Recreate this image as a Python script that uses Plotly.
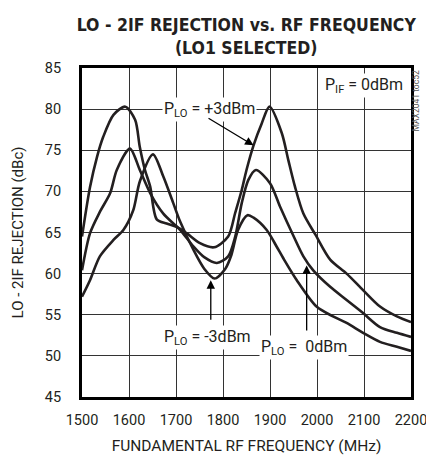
import plotly.graph_objects as go

# Data
freq_p3 = [1500, 1517, 1532, 1545, 1567, 1592, 1613, 1623, 1634, 1645, 1659, 1680, 1701, 1723, 1751, 1781, 1811, 1826, 1840, 1850, 1865, 1882, 1899, 1925, 1939, 1953, 1971, 1997, 2028, 2063, 2098, 2134, 2170, 2200]
rej_p3  = [64.5, 70.5, 74.2, 76.6, 79.3, 80.3, 78.7, 75.4, 72.6, 70.6, 66.6, 66.1, 65.7, 64.9, 63.7, 63.2, 64.5, 67.4, 70.2, 72.6, 75.6, 78.2, 80.3, 77.1, 73.8, 70.6, 67.3, 64.7, 61.7, 60.0, 58.0, 56.0, 54.8, 54.1]

freq_0 = [1500, 1517, 1538, 1560, 1574, 1602, 1623, 1645, 1673, 1709, 1737, 1760, 1787, 1811, 1826, 1840, 1854, 1870, 1900, 1921, 1949, 1971, 1992, 2028, 2063, 2098, 2134, 2170, 2200]
rej_0  = [60.4, 64.9, 67.5, 69.8, 72.6, 75.2, 72.6, 69.8, 67.3, 65.3, 63.3, 62.0, 61.3, 62.1, 64.5, 68.6, 71.4, 72.6, 71.0, 68.2, 64.7, 62.1, 60.4, 58.4, 56.8, 55.2, 53.5, 52.8, 52.3]

freq_m3 = [1500, 1517, 1538, 1567, 1588, 1609, 1623, 1651, 1673, 1694, 1709, 1737, 1760, 1782, 1805, 1818, 1832, 1852, 1865, 1893, 1914, 1928, 1957, 1999, 2034, 2063, 2098, 2134, 2170, 2200]
rej_m3  = [57.2, 59.2, 62.1, 64.1, 65.3, 67.7, 71.2, 74.5, 71.8, 68.6, 66.3, 62.9, 60.6, 59.4, 60.6, 62.3, 65.3, 67.1, 66.8, 65.3, 63.3, 61.9, 59.2, 56.0, 54.8, 54.0, 52.8, 51.7, 51.1, 50.6]

x_ticks = [1500, 1600, 1700, 1800, 1900, 2000, 2100, 2200]
y_ticks = [45, 50, 55, 60, 65, 70, 75, 80, 85]

CURVE = "#231f20"
FONT = "DejaVu Sans Condensed, Roboto, Liberation Sans, sans-serif"
TFONT = "Roboto, Liberation Sans, sans-serif"

fig = go.Figure()
for xs, ys in [(freq_p3, rej_p3), (freq_0, rej_0), (freq_m3, rej_m3)]:
    fig.add_trace(go.Scatter(x=xs, y=ys, mode="lines",
                             line=dict(color=CURVE, width=2.6, shape="spline", smoothing=0.8),
                             showlegend=False, hoverinfo="skip"))

axis_common = dict(showgrid=True, gridcolor="#333333", gridwidth=1.4,
                   showline=True, linecolor="black", linewidth=3, mirror=True,
                   ticks="", zeroline=False, ticklabeloverflow="allow",
                   tickfont=dict(family=TFONT, size=14.5, color="#231f20"))

fig.update_xaxes(range=[1500, 2200], tickvals=x_ticks, ticktext=[str(v) for v in x_ticks],
                 ticklabelstandoff=8,
                 title=dict(text="FUNDAMENTAL RF FREQUENCY (MHz)", standoff=12,
                            font=dict(family=TFONT, size=15.5, color="#231f20")),
                 **axis_common)
fig.update_yaxes(range=[45, 85], tickvals=y_ticks, ticktext=[str(v) for v in y_ticks],
                 ticklabelstandoff=15,
                 title=dict(text="LO - 2IF REJECTION (dBc)", standoff=18,
                            font=dict(family=TFONT, size=15, color="#231f20")),
                 **axis_common)

ann_font = dict(family=TFONT, size=16, color="#231f20")
annotations = [
    dict(x=1772, y=80, text="P<sub>LO</sub> = +3dBm", showarrow=False, bgcolor="white",
         font=ann_font, xanchor="center", yanchor="middle"),
    dict(x=2100, y=82.9, text="P<sub>IF</sub> = 0dBm", showarrow=False, bgcolor="white",
         font=ann_font, xanchor="center", yanchor="middle"),
    dict(x=1766, y=52.2, text="P<sub>LO</sub> = -3dBm", showarrow=False, bgcolor="white",
         font=ann_font, xanchor="center", yanchor="middle"),
    dict(x=1972, y=51.0, text="P<sub>LO</sub> =  0dBm", showarrow=False, bgcolor="white",
         font=ann_font, xanchor="center", yanchor="middle"),
    # arrows
    dict(x=1865, y=75.6, ax=1766, ay=79.0, xref="x", yref="y", axref="x", ayref="y",
         text="", showarrow=True, arrowhead=2, arrowsize=1.3, arrowwidth=1.3, arrowcolor="black"),
    dict(x=1774, y=59.2, ax=1774, ay=54.2, xref="x", yref="y", axref="x", ayref="y",
         text="", showarrow=True, arrowhead=2, arrowsize=1.3, arrowwidth=1.3, arrowcolor="black"),
    dict(x=1978, y=61.0, ax=1978, ay=52.9, xref="x", yref="y", axref="x", ayref="y",
         text="", showarrow=True, arrowhead=2, arrowsize=1.3, arrowwidth=1.3, arrowcolor="black"),
    dict(x=1.015, y=1.0, xref="paper", yref="paper", text="MAX2041 toc52", showarrow=False,
         textangle=-90, xanchor="center", yanchor="top",
         font=dict(family=TFONT, size=8.5, color="#555555")),
]
fig.update_layout(annotations=annotations)

fig.update_layout(
    width=426, height=458,
    margin=dict(l=82, r=15, t=68, b=61, autoexpand=False),
    paper_bgcolor="white", plot_bgcolor="white",
    title=dict(text="<b>LO - 2IF REJECTION vs. RF FREQUENCY<br>(LO1 SELECTED)</b>",
               x=0.578, xanchor="center", y=0.932, yanchor="top",
               font=dict(family=FONT, size=17.5, color="#231f20")),
)

fig.write_html("out.html", config={"displayModeBar": False},
               post_script="document.body.style.margin='0';document.body.style.padding='0';")
